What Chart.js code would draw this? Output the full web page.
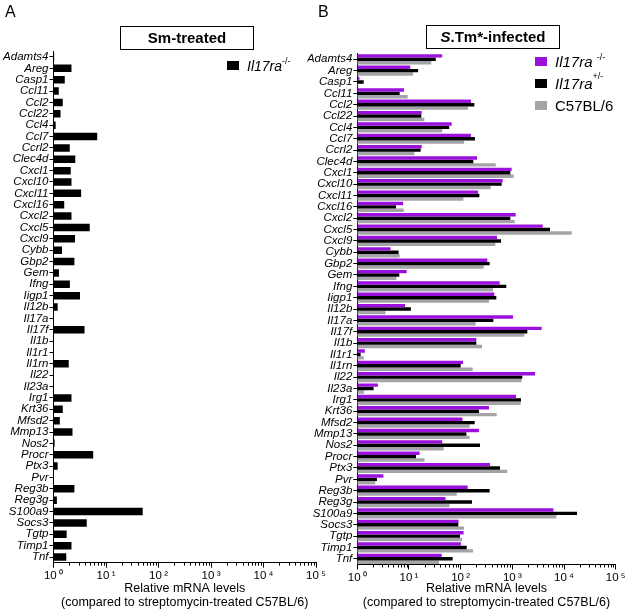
<!DOCTYPE html>
<html>
<head>
<meta charset="utf-8">
<script src="https://cdn.jsdelivr.net/npm/chart.js@4"></script>
<style>
  body { margin: 0; background: #fff; }
  #wrap { position: relative; width: 627px; height: 611px; overflow: hidden;
          font-family: "Liberation Sans", Arial, sans-serif; color: #000; }
  canvas { position: absolute; left: 0; top: 0; }
  .panel { position: absolute; top: 3px; font-size: 16px; }
  .title { position: absolute; border: 1px solid #000; box-sizing: border-box; height: 24px;
           font-weight: bold; font-size: 15px; line-height: 22px; text-align: center; }
  .leg { position: absolute; font-size: 15px; line-height: 16px; white-space: nowrap; }
  .leg .sw { display: inline-block; width: 12px; height: 9px; margin-right: 8px; vertical-align: 1px; }
  .leg sup { font-size: 9px; vertical-align: 7px; line-height: 0; }
</style>
</head>
<body>
<div id="wrap">
  <canvas id="chartA" width="627" height="611"></canvas>
  <canvas id="chartB" width="627" height="611"></canvas>
  <div class="panel" style="left:5px">A</div>
  <div class="panel" style="left:318px">B</div>
  <div class="title" style="left:120px; top:26px; width:134px">Sm-treated</div>
  <div class="title" style="left:426px; top:25px; width:134px"><i>S</i>.Tm*-infected</div>
  <div class="leg" style="left:227px; top:58px; font-size:14px"><span class="sw" style="background:#000"></span><i>Il17ra</i><sup>-/-</sup></div>
  <div class="leg" style="left:535px; top:54px"><span class="sw" style="background:#9b10dc"></span><i>Il17ra</i> <sup>-/-</sup></div>
  <div class="leg" style="left:535px; top:76px"><span class="sw" style="background:#000"></span><i>Il17ra</i><sup style="vertical-align:10px">+/-</sup></div>
  <div class="leg" style="left:535px; top:98px"><span class="sw" style="background:#a4a4a8"></span>C57BL/6</div>
</div>
<script>
// genes, top to bottom
const genes = ['Adamts4', 'Areg', 'Casp1', 'Ccl11', 'Ccl2', 'Ccl22', 'Ccl4', 'Ccl7', 'Ccrl2', 'Clec4d',
  'Cxcl1', 'Cxcl10', 'Cxcl11', 'Cxcl16', 'Cxcl2', 'Cxcl5', 'Cxcl9', 'Cybb', 'Gbp2', 'Gem',
  'Ifng', 'Iigp1', 'Il12b', 'Il17a', 'Il17f', 'Il1b', 'Il1r1', 'Il1rn', 'Il22', 'Il23a',
  'Irg1', 'Krt36', 'Mfsd2', 'Mmp13', 'Nos2', 'Procr', 'Ptx3', 'Pvr', 'Reg3b', 'Reg3g',
  'S100a9', 'Socs3', 'Tgtp', 'Timp1', 'Tnf'];

// A: Sm-treated, Il17ra-/-
const smKO = [1.03, 2.2, 1.64, 1.26, 1.5, 1.36, 1.1, 6.8, 2.04, 2.6,
  2.13, 2.2, 3.36, 1.6, 2.2, 4.9, 2.57, 1.45, 2.5, 1.27,
  2.05, 3.2, 1.2, null, 3.9, null, null, 1.95, null, null,
  2.2, 1.5, 1.32, 2.3, 1.05, 5.7, 1.2, null, 2.5, 1.16,
  50, 4.3, 1.78, 2.2, 1.75];

// B: S.Tm*-infected
const stmKO = [44, 10.6, 1.1, 8, 158, 17.6, 67, 158, 17.6, 207,
  970, 650, 216, 7.7, 1160, 3870, 505, 4.4, 328, 9,
  570, 448, 8.4, 1030, 3700, 201, 1.4, 111, 2750, 2.5,
  1180, 353, 108, 226, 44, 16, 370, 3.2, 137, 51,
  6220, 91, 114, 101, 43];
const stmHet = [33, 15, 1.33, 6.6, 184, 17.3, 60, 189, 16.8, 176,
  914, 622, 230, 5.6, 914, 5360, 604, 6.3, 364, 6.5,
  765, 490, 10.9, 429, 1950, 201, 1.16, 100, 1560, 2.07,
  1470, 226, 187, 129, 237, 13.7, 577, 2.4, 364, 166,
  17860, 90, 97, 131, 70];
const stmWT = [27, 12, 1.05, 9.4, 138, 19.8, 44, 116, 12.7, 476,
  1060, 381, 113, 7.9, 1110, 14070, 469, 6.6, 279, 5.7,
  422, 353, 3.5, 195, 1710, 259, 1.33, 171, 1510, 1.35,
  1450, 497, 149, 149, 47, 20, 800, 2.23, 84, 61,
  7110, 116, 106, 173, 38];

const tickValues = [1, 10, 100, 1000, 10000, 100000];
const tickLabels = ['10\u2009\u2070', '10\u2009\u00b9', '10\u2009\u00b2', '10\u2009\u00b3', '10\u2009\u2074', '10\u2009\u2075'];
const axisTitle = ['Relative mRNA levels', '(compared to streptomycin-treated C57BL/6)'];

const FONT = '"Liberation Sans", Arial, sans-serif';

// small log ticks between the decades
const minorTicks = {
  id: 'minorTicks',
  afterDraw(chart) {
    const sx = chart.scales.x;
    const y0 = chart.chartArea.bottom;
    const ctx = chart.ctx;
    ctx.save();
    ctx.strokeStyle = '#000';
    ctx.lineWidth = 1;
    ctx.beginPath();
    for (let d = 1; d < 100000; d *= 10) {
      for (let m = 2; m <= 9; m++) {
        const px = Math.round(sx.getPixelForValue(m * d)) + 0.5;
        ctx.moveTo(px, y0);
        ctx.lineTo(px, y0 + 3);
      }
    }
    ctx.stroke();
    ctx.restore();
  }
};

function makePanel(id, datasets, g) {
  new Chart(document.getElementById(id), {
    type: 'bar',
    data: { labels: genes, datasets: datasets },
    plugins: [minorTicks],
    options: {
      indexAxis: 'y',
      responsive: false,
      animation: false,
      devicePixelRatio: 1,
      layout: { padding: { left: g.left - g.yWidth, right: 627 - g.right, top: g.top, bottom: 1 } },
      plugins: { legend: { display: false }, tooltip: { enabled: false } },
      datasets: { bar: { categoryPercentage: g.catPct, barPercentage: 1, borderWidth: 0 } },
      scales: {
        x: {
          type: 'logarithmic',
          min: 1,
          max: 100000,
          afterBuildTicks: s => { s.ticks = tickValues.map(v => ({ value: v })); },
          afterFit: s => { s.height = 610 - g.bottom; },
          border: { color: '#000', width: 1 },
          grid: { drawOnChartArea: false, drawTicks: true, tickLength: 5, color: '#000' },
          ticks: {
            autoSkip: false, maxRotation: 0, padding: 1, color: '#000',
            font: { family: FONT, size: 11.5 },
            callback: v => tickLabels[tickValues.indexOf(v)]
          },
          title: {
            display: true, text: axisTitle, color: '#000', padding: 0,
            font: { family: FONT, size: 12.5, lineHeight: 1.15 }
          }
        },
        y: {
          afterFit: s => { s.width = g.yWidth; },
          border: { color: '#000', width: 1 },
          grid: { drawOnChartArea: false, drawTicks: true, tickLength: 4, color: '#000', offset: false },
          ticks: {
            autoSkip: false, padding: 1, color: '#000',
            font: { family: FONT, size: 11.5, style: 'italic' }
          }
        }
      }
    }
  });
}

makePanel('chartA', [
  { label: 'Il17ra-/-', data: smKO, backgroundColor: '#000' }
], { left: 53.5, right: 316, top: 51.3, bottom: 562.7, yWidth: 53.5, catPct: 0.66 });

makePanel('chartB', [
  { label: 'Il17ra-/-', data: stmKO, backgroundColor: '#9b10dc' },
  { label: 'Il17ra+/-', data: stmHet, backgroundColor: '#000' },
  { label: 'C57BL/6', data: stmWT, backgroundColor: '#a4a4a8' }
], { left: 357.3, right: 615.7, top: 53.6, bottom: 564.5, yWidth: 50, catPct: 0.9 });
</script>
</body>
</html>
